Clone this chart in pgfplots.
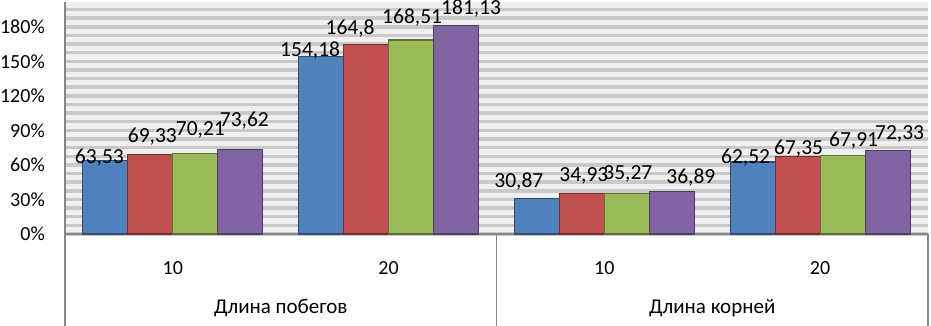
\documentclass[border=0pt]{standalone}
\usepackage{pgfplots}
\usepackage{pgfplotstable}
\pgfplotsset{compat=1.18}
\usepackage{fontspec}
\setmainfont{Carlito}
\definecolor{cA}{HTML}{4F81BD}
\definecolor{cB}{HTML}{C0504D}
\definecolor{cC}{HTML}{9BBB59}
\definecolor{cD}{HTML}{8064A2}
\definecolor{axgray}{HTML}{868686}
\pgfplotstableread{
x y dx dy
0 63.53 -6 3
1 154.18 -11 6
2 30.87 -18 17
3 62.52 -7 4
}\tA
\pgfplotstableread{
x y dx dy
0 69.33 2 18
1 164.8 -16 16
2 34.93 2 18
3 67.35 1 8
}\tB
\pgfplotstableread{
x y dx dy
0 70.21 5 23
1 168.51 1 22
2 35.27 1 19
3 67.91 11 15
}\tC
\pgfplotstableread{
x y dx dy
0 73.62 4 29
1 181.13 15 17
2 36.89 19 14
3 72.33 12 17
}\tD
\begin{document}
\begin{tikzpicture}
\begin{axis}[
  scale only axis,
  width=863pt, height=232pt,
  xmin=-0.5, xmax=3.5,
  ymin=0, ymax=201.5,
  ybar=0pt, bar width=45pt,
  clip=false,
  axis x line*=bottom, axis y line*=left,
  axis line style={axgray, line width=1.5pt},
  axis background/.style={fill=gray!12},
  ytick={0,30,...,180},
  minor ytick={0,7.5,...,201},
  grid=both,
  major grid style={draw=gray!42, line width=3.5pt},
  minor grid style={draw=gray!42, line width=3.5pt},
  xmajorgrids=false, xminorgrids=false,
  major tick length=0pt, minor tick length=0pt,
  xtick={0,1,2,3},
  xticklabels={10,20,10,20},
  yticklabel={\pgfmathprintnumber{\tick}\%},
  /pgf/number format/assume math mode=true,
  /pgf/number format/use comma,
  /pgf/number format/precision=2,
  yticklabel style={anchor=east, inner sep=0pt, xshift=-20pt, font=\fontsize{20}{22}\selectfont},
  xticklabel style={anchor=center, inner sep=0pt, yshift=-34pt, font=\fontsize{20}{22}\selectfont},
  nodes near coords,
  visualization depends on={\thisrow{dx}\as\dx},
  visualization depends on={\thisrow{dy}\as\dy},
  nodes near coords style={anchor=center, inner sep=0pt, xshift=\dx pt, yshift=\dy pt, font=\fontsize{21.5}{22}\selectfont, text=black},
]
\addplot[fill=cA, draw=cA!60!black, line width=1.2pt] table[x=x,y=y] {\tA};
\addplot[fill=cB, draw=cB!60!black, line width=1.2pt] table[x=x,y=y] {\tB};
\addplot[fill=cC, draw=cC!60!black, line width=1.2pt] table[x=x,y=y] {\tC};
\addplot[fill=cD, draw=cD!60!black, line width=1.2pt] table[x=x,y=y] {\tD};
\coordinate (O) at (axis cs:-0.5,0);
\coordinate (M) at (axis cs:1.5,0);
\coordinate (R) at (axis cs:3.5,0);
\coordinate (G1) at (axis cs:0.5,0);
\coordinate (G2) at (axis cs:2.5,0);
\end{axis}
\draw[axgray, line width=1.5pt] (O) -- ++(0,-92pt);
\draw[axgray, line width=1.5pt] (M) -- ++(0,-92pt);
\draw[axgray, line width=1.5pt] (R) -- ++(0,-92pt);
\node[font=\fontsize{21}{22}\selectfont, inner sep=0pt] at ([yshift=-74pt]G1) {Длина побегов};
\node[font=\fontsize{21}{22}\selectfont, inner sep=0pt] at ([yshift=-74pt]G2) {Длина корней};
\pgfresetboundingbox
\path[use as bounding box] ([xshift=-65pt,yshift=-92pt]O) rectangle ++(931pt,326pt);
\end{tikzpicture}
\end{document}
